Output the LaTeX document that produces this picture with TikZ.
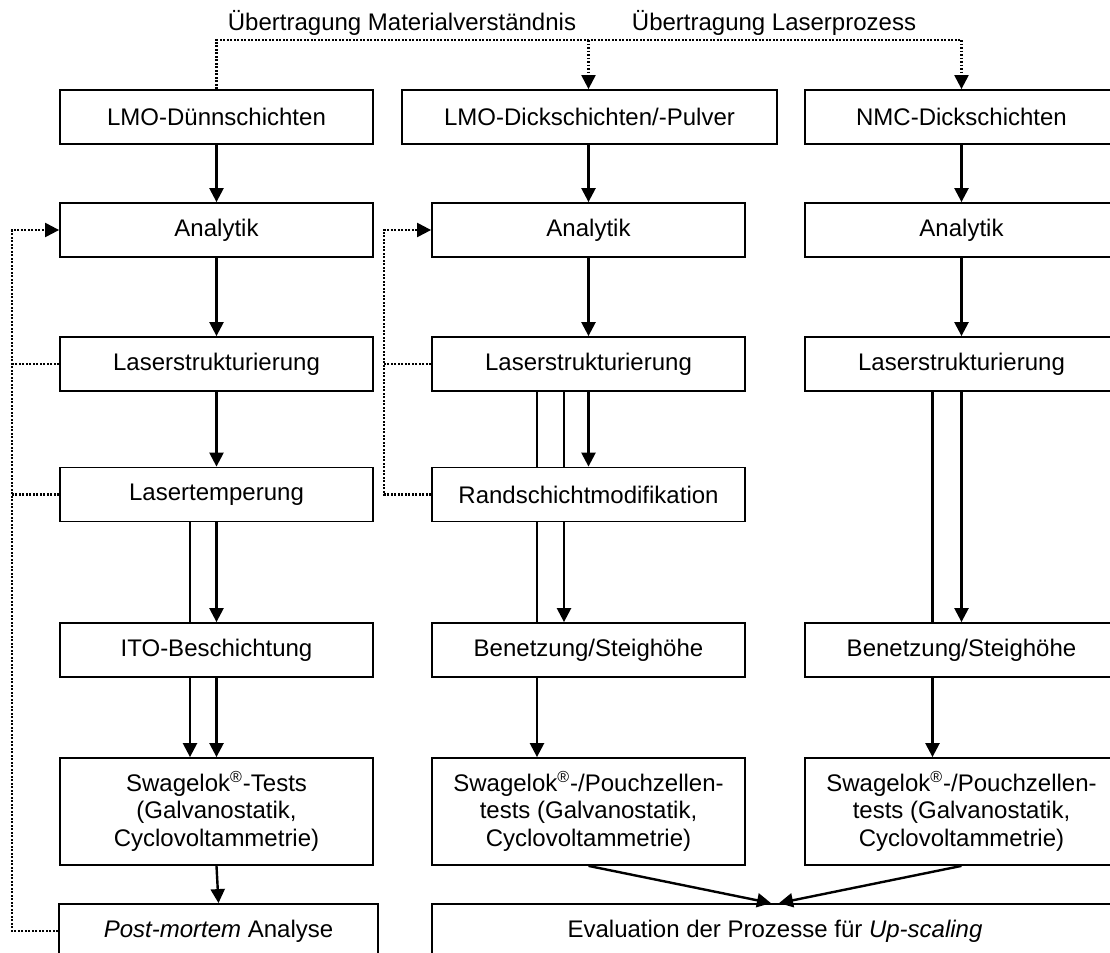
\documentclass[tikz,border=0pt]{standalone}
\usepackage{fontspec}
\setmainfont{Liberation Sans}
\usetikzlibrary{
  arrows.meta,
  calc,
  positioning
}
\tikzset{>={Triangle[length=7pt,width=7pt]}}
\tikzset{font=\fontsize{12}{13.8}\selectfont}
\tikzset{box/.style={draw, line width=0.9pt, minimum width=156.5pt,
    minimum height=27pt, inner sep=0pt, align=center},
  tallbox/.style={box, minimum height=53.5pt},
  flow/.style={->, line width=1.2pt},
  feed/.style={line width=1.1pt, dash pattern=on 0.9pt off 0.85pt}}

\begin{document}
\begin{tikzpicture}[x=0.5pt,y=-0.5pt]
  \clip (0,0) rectangle (1110,953);
  % first column
  \node[box] (lmo1) at (216.5,117) {LMO-Dünnschichten};
  \node[box] (ana1) at (216.5,230) {Analytik};
  \node[box] (ls1) at (216.5,364) {Laserstrukturierung};
  \node[box] (lt1) at (216.5,494.5) {Lasertemperung};
  \node[box] (ito1) at (216.5,650) {ITO-Beschichtung};
  \node[tallbox] (sw1) at (216.5,811.5) {Swagelok\textsuperscript{\textregistered}-Tests\\(Galvanostatik,\\Cyclovoltammetrie)};
  \node[box, minimum width=159.5pt] (pm1) at (218.5,931) {\textit{Post-mortem} Analyse};
  % second column
  \node[box, minimum width=187.5pt] (lmo2) at (589.5,117) {LMO-Dickschichten/-Pulver};
  \node[box] (ana2) at (588.5,230) {Analytik};
  \node[box] (ls2) at (588.5,364) {Laserstrukturierung};
  \node[box] (rsm2) at (588.5,494.5) {Randschichtmodifikation};
  \node[box] (ben2) at (588.5,650) {Benetzung/Steighöhe};
  \node[tallbox] (sw2) at (588.5,811.5) {Swagelok\textsuperscript{\textregistered}-/Pouchzellen-\\tests (Galvanostatik,\\Cyclovoltammetrie)};
  % third column
  \node[box] (nmc) at (961.5,117) {NMC-Dickschichten};
  \node[box] (ana3) at (961.5,230) {Analytik};
  \node[box] (ls3) at (961.5,364) {Laserstrukturierung};
  \node[box] (ben3) at (961.5,650) {Benetzung/Steighöhe};
  \node[tallbox] (sw3) at (961.5,811.5) {Swagelok\textsuperscript{\textregistered}-/Pouchzellen-\\tests (Galvanostatik,\\Cyclovoltammetrie)};
  % evaluation
  \node[box, minimum width=343pt] (eval) at (775,931) {Evaluation der Prozesse für \textit{Up-scaling}};

  % transfer between columns
  \node[anchor=base] (tmat) at (402,31) {Übertragung Materialverständnis};
  \node[anchor=base] (tlas) at (774,31) {Übertragung Laserprozess};
  \coordinate (top1) at (216.5,40);
  \coordinate (top2) at (588.5,40);
  \coordinate (top3) at (961.5,40);
  \draw[feed] (lmo1.north) -- (top1) -- (top3);
  \draw[feed,->] (top2) -- (ana2.north |- lmo2.north);
  \draw[feed,->] (top3) -- (nmc.north);

  % feedback loops
  \coordinate (fb1) at (12,230);
  \coordinate (fb2) at (384,230);
  \draw[feed,->] (pm1.west) -| (fb1) -- (ana1.west);
  \draw[feed] (ls1.west) -- (ls1.west -| fb1);
  \draw[feed] (lt1.west) -- (lt1.west -| fb1);
  \draw[feed,->] (rsm2.west) -| (fb2) -- (ana2.west);
  \draw[feed] (ls2.west) -- (ls2.west -| fb2);

  % first column flow
  \draw[flow] (lmo1) -- (ana1);
  \draw[flow] (ana1) -- (ls1);
  \draw[flow] (ls1) -- (lt1);
  \draw[flow, -] ($(lt1.south)+(-26.5,0)$) -- ($(ito1.north)+(-26.5,0)$);
  \draw[flow] (lt1) -- (ito1);
  \foreach \dx in {-26.5,0}
    \draw[flow] ($(ito1.south)+(\dx,0)$) -- ($(sw1.north)+(\dx,0)$);
  \draw[flow] (sw1.south) -- (pm1.north);

  % second column flow
  \draw[flow] (ana2.north |- lmo2.south) -- (ana2.north);
  \draw[flow] (ana2) -- (ls2);
  \foreach \dx in {-51.5,-24.5}
    \draw[flow, -] ($(ls2.south)+(\dx,0)$) -- ($(rsm2.north)+(\dx,0)$);
  \draw[flow] (ls2) -- (rsm2);
  \draw[flow, -] ($(rsm2.south)+(-51.5,0)$) -- ($(ben2.north)+(-51.5,0)$);
  \draw[flow] ($(rsm2.south)+(-24.5,0)$) -- ($(ben2.north)+(-24.5,0)$);
  \draw[flow] ($(ben2.south)+(-51.5,0)$) -- ($(sw2.north)+(-51.5,0)$);
  \draw[flow] (sw2.south) -- ($(eval.north)+(-4,0)$);

  % third column flow
  \draw[flow] (nmc) -- (ana3);
  \draw[flow] (ana3) -- (ls3);
  \draw[flow, -] ($(ls3.south)+(-29,0)$) -- ($(ben3.north)+(-29,0)$);
  \draw[flow] (ls3) -- (ben3);
  \draw[flow] ($(ben3.south)+(-29,0)$) -- ($(sw3.north)+(-29,0)$);
  \draw[flow] (sw3.south) -- ($(eval.north)+(4,0)$);
\end{tikzpicture}
\end{document}
